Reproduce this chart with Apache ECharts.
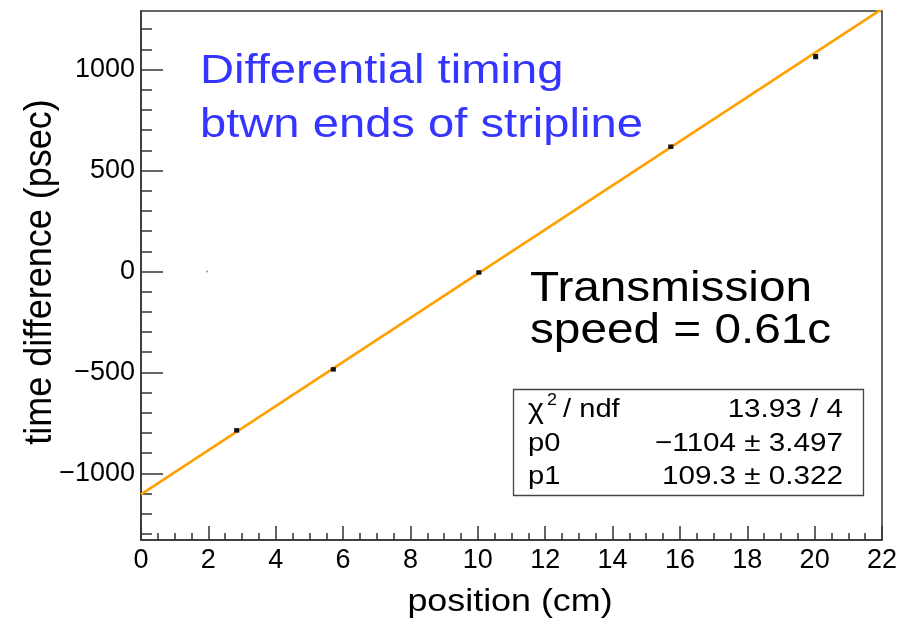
<!DOCTYPE html>
<html>
<head>
<meta charset="utf-8">
<script src="https://cdn.jsdelivr.net/npm/echarts@6/dist/echarts.min.js"></script>
<style>
html,body{margin:0;padding:0;background:#fff;}
#chart{width:910px;height:619px;}
</style>
</head>
<body>
<div id="chart"></div>
<script>
// ---- data ----
const posX    = [2.84, 5.71, 10.03, 15.73, 20.03];
const timeY   = [-787, -485, -5, 618, 1064];
const timeErr = [8, 8, 8, 8, 10];
const strayX  = [1.96];
const strayY  = [0];
const fitX    = [0, 22];
const fitY    = [-1104, 1300.6];
const xTicks  = [0, 2, 4, 6, 8, 10, 12, 14, 16, 18, 20, 22];
const yMajor  = [-1000, -500, 0, 500, 1000];
const yMinor  = [-1300, -1200, -1100, -900, -800, -700, -600, -400, -300, -200, -100,
                 100, 200, 300, 400, 600, 700, 800, 900, 1100, 1200];
const statRows = [
  ['p0', '\u22121104 \u00b1 3.497'],
  ['p1', '109.3 \u00b1 0.322']
];
const chiText = '13.93 / 4';

const FONT = '"Liberation Sans", Arial, Helvetica, sans-serif';
const AX = '#333';

const points = posX.map((x, i) => [x, timeY[i], timeErr[i]]);
const stray = strayX.map((x, i) => [x, strayY[i]]);
const fit = fitX.map((x, i) => [x, fitY[i]]);

const chart = echarts.init(document.getElementById('chart'), null, {renderer: 'canvas'});

const graphics = [
  {type:'text', x:200, y:72, scaleX:1.15, style:{text:'Differential timing', font:'41px ' + FONT, fill:'#3535ff', verticalAlign:'middle'}},
  {type:'text', x:200, y:126, scaleX:1.15, style:{text:'btwn ends of stripline', font:'41px ' + FONT, fill:'#3535ff', verticalAlign:'middle'}},
  {type:'text', x:530, y:289, scaleX:1.11, style:{text:'Transmission', font:'43px ' + FONT, fill:'#000', verticalAlign:'middle'}},
  {type:'text', x:530, y:331, scaleX:1.11, style:{text:'speed = 0.61c', font:'43px ' + FONT, fill:'#000', verticalAlign:'middle'}},
  // stat box
  {type:'rect', shape:{x:513.5, y:389.5, width:350, height:106}, style:{fill:'#fff', stroke:'#444', lineWidth:1.3}, z:10},
  {type:'text', x:528, y:411, z:11, scaleX:1.12, style:{text:'\u03c7', font:'27px ' + FONT, fill:'#000', verticalAlign:'middle'}},
  {type:'text', x:547, y:401, z:11, scaleX:1.12, style:{text:'2', font:'16px ' + FONT, fill:'#000', verticalAlign:'middle'}},
  {type:'text', x:563, y:410, z:11, scaleX:1.12, style:{text:'/ ndf', font:'26px ' + FONT, fill:'#000', verticalAlign:'middle'}},
  {type:'text', x:843, y:410, z:11, scaleX:1.14, style:{text:chiText, font:'26px ' + FONT, fill:'#000', align:'right', verticalAlign:'middle'}},
  // axis titles
  {type:'text', x:510, y:602, scaleX:1.12, style:{text:'position (cm)', font:'32px ' + FONT, fill:'#000', align:'center', verticalAlign:'middle'}},
  {type:'text', x:40, y:272, rotation:Math.PI/2, scaleY:1.08, style:{text:'time difference (psec)', font:'36px ' + FONT, fill:'#000', align:'center', verticalAlign:'middle'}}
];
statRows.forEach((r, i) => {
  const y = 444 + i * 33;
  graphics.push({type:'text', x:528, y:y, z:11, scaleX:1.12, style:{text:r[0], font:'26px ' + FONT, fill:'#000', verticalAlign:'middle'}});
  graphics.push({type:'text', x:843, y:y, z:11, scaleX:1.14, style:{text:r[1], font:'26px ' + FONT, fill:'#000', align:'right', verticalAlign:'middle'}});
});

chart.setOption({
  animation:false,
  backgroundColor:'#fff',
  grid:{left:141, right:28, top:11, bottom:79, show:true, borderColor:AX, borderWidth:1.5, backgroundColor:'transparent'},
  xAxis:{
    type:'value', min:0, max:22, interval:2,
    axisLine:{show:true, onZero:false, lineStyle:{color:AX, width:1.5}},
    axisTick:{show:true, inside:true, length:14, lineStyle:{color:AX, width:1.5}},
    minorTick:{show:true, splitNumber:4, length:7, lineStyle:{color:AX, width:1.5}},
    splitLine:{show:false},
    axisLabel:{show:true, customValues:xTicks, margin:7, fontSize:27, color:'#000', fontFamily:FONT}
  },
  yAxis:[{
    type:'value', min:-1330, max:1290, position:'left',
    axisLine:{show:true, onZero:false, lineStyle:{color:AX, width:1.5}},
    axisTick:{show:true, inside:true, length:22, customValues:yMajor, lineStyle:{color:AX, width:1.5}},
    splitLine:{show:false},
    axisLabel:{show:true, customValues:yMajor, margin:6, fontSize:27, color:'#000', fontFamily:FONT,
      formatter:v => (v < 0 ? '\u2212' + Math.abs(v) : String(v))}
  },{
    type:'value', min:-1330, max:1290, position:'left',
    axisLine:{show:false, onZero:false},
    axisTick:{show:true, inside:true, length:11, customValues:yMinor, lineStyle:{color:AX, width:1.5}},
    splitLine:{show:false},
    axisLabel:{show:false}
  }],
  series:[
    {type:'line', data:fit, showSymbol:false, symbol:'none', clip:true,
     lineStyle:{color:'#ffa000', width:2.6}, z:3},
    {type:'scatter', data:stray, symbolSize:2, itemStyle:{color:'#777'}, z:4},
    {type:'custom', data:points, z:5, clip:true,
     renderItem:(params, api) => {
       const x = api.value(0), y = api.value(1), e = api.value(2);
       const c = api.coord([x, y]);
       const lo = api.coord([x, y - e]);
       const hi = api.coord([x, y + e]);
       const st = {stroke:'#111', lineWidth:1.2};
       return {type:'group', children:[
         {type:'line', shape:{x1:c[0], y1:lo[1], x2:c[0], y2:hi[1]}, style:st},
         {type:'line', shape:{x1:c[0]-2.5, y1:lo[1], x2:c[0]+2.5, y2:lo[1]}, style:st},
         {type:'line', shape:{x1:c[0]-2.5, y1:hi[1], x2:c[0]+2.5, y2:hi[1]}, style:st},
         {type:'rect', shape:{x:c[0]-2.5, y:c[1]-1.5, width:5, height:3}, style:{fill:'#111'}}
       ]};
     }}
  ],
  graphic:graphics
});
</script>
</body>
</html>
